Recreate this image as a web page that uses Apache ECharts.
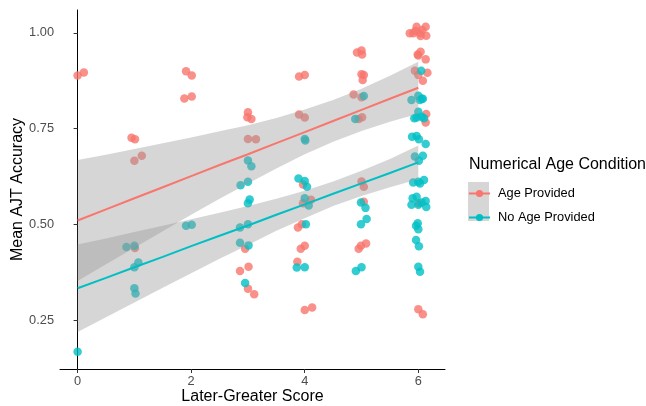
<!DOCTYPE html>
<html><head><meta charset="utf-8">
<script src="https://cdn.jsdelivr.net/npm/echarts@6/dist/echarts.min.js"></script>
<style>html,body{margin:0;padding:0;background:#fff}#c{width:646px;height:406px}</style>
</head><body><div id="c"></div>
<script>
const xTicks = [0, 2, 4, 6];
const yTicks = [0.25, 0.50, 0.75, 1.00];
const groups = ['Age Provided', 'No Age Provided'];

const agePoints = [
 [0.00,0.889],[0.11,0.897],
 [0.95,0.726],[1.01,0.722],[1.00,0.666],[1.13,0.679],[1.01,0.438],
 [1.91,0.900],[2.01,0.889],[1.88,0.829],[2.01,0.834],
 [3.00,0.793],[2.99,0.780],[3.06,0.775],[3.00,0.723],[3.14,0.722],[2.95,0.436],[2.86,0.378],[3.01,0.389],[3.00,0.332],[3.11,0.317],
 [3.90,0.886],[4.00,0.890],[3.90,0.787],[4.00,0.779],[3.97,0.604],[4.11,0.564],[3.97,0.555],[3.88,0.492],[3.95,0.500],[3.93,0.436],[4.00,0.444],[3.87,0.402],[4.00,0.276],[4.13,0.283],
 [4.92,0.949],[5.00,0.954],[5.01,0.944],[5.00,0.892],[5.04,0.890],[5.02,0.877],[4.86,0.839],[5.00,0.832],[4.95,0.775],[5.01,0.780],[5.00,0.612],[5.04,0.598],[5.04,0.559],[4.95,0.436],[4.99,0.444],[5.08,0.450],
 [5.91,0.999],[5.97,1.016],[6.13,1.016],[6.14,0.993],[6.03,0.999],[5.85,0.999],[5.95,1.005],[6.07,1.008],[6.04,0.992],
 [5.99,0.944],[6.04,0.951],[6.13,0.931],[6.00,0.941],[5.94,0.901],[6.16,0.896],[6.00,0.890],[6.08,0.875],[6.14,0.788],[6.13,0.766],[6.01,0.555],[6.00,0.278],[6.08,0.265]
];
const noAgePoints = [
 [0.00,0.167],
 [0.86,0.441],[1.00,0.444],[1.07,0.400],[1.00,0.388],[1.00,0.333],[1.02,0.319],
 [1.91,0.496],[2.01,0.499],
 [3.00,0.667],[3.06,0.652],[2.87,0.602],[3.00,0.611],[3.03,0.565],[3.00,0.555],[2.86,0.492],[3.00,0.500],[2.86,0.452],[3.01,0.445],[2.95,0.347],
 [4.00,0.723],[4.01,0.719],[3.89,0.620],[4.00,0.613],[4.04,0.598],[4.00,0.568],[4.07,0.549],[4.02,0.500],[3.86,0.387],[4.00,0.388],
 [5.04,0.835],[4.89,0.775],[4.99,0.557],[5.07,0.543],[5.09,0.514],[4.99,0.500],[4.90,0.378],[5.00,0.388],
 [6.05,0.901],[5.88,0.825],[6.00,0.836],[6.06,0.828],[6.03,0.825],[6.08,0.828],[5.93,0.777],[6.00,0.794],[6.06,0.781],[6.10,0.777],[5.97,0.779],
 [5.89,0.729],[5.97,0.731],[6.01,0.722],[6.13,0.710],[5.94,0.677],[6.08,0.679],[6.01,0.666],[5.91,0.609],[6.00,0.611],[6.10,0.616],[6.03,0.607],
 [5.90,0.568],[5.97,0.572],[6.00,0.551],[5.88,0.551],[6.13,0.561],[6.14,0.545],[6.06,0.557],[5.99,0.503],[5.96,0.496],[6.00,0.487],[5.96,0.459],[6.01,0.443],[6.00,0.389],[6.03,0.376]
];

const fitX = [0,0.5,1,1.5,2,2.5,3,3.5,4,4.5,5,5.5,6];
const ageFit   = [0.510,0.539,0.568,0.597,0.626,0.655,0.683,0.712,0.741,0.770,0.799,0.828,0.857];
const ageUpper = [0.668,0.682,0.697,0.712,0.727,0.743,0.759,0.778,0.800,0.825,0.854,0.888,0.925];
const ageLower = [0.352,0.396,0.439,0.482,0.525,0.567,0.607,0.646,0.683,0.716,0.744,0.768,0.789];
const noAgeFit   = [0.333,0.360,0.388,0.415,0.443,0.470,0.497,0.525,0.552,0.580,0.607,0.634,0.662];
const noAgeUpper = [0.447,0.463,0.480,0.496,0.513,0.530,0.548,0.567,0.588,0.612,0.640,0.671,0.706];
const noAgeLower = [0.219,0.257,0.296,0.334,0.372,0.410,0.446,0.483,0.516,0.548,0.574,0.597,0.618];

const colors = ['#F8766D', '#00BFC4'];
const FONT = 'Liberation Sans, Arial, Helvetica, sans-serif';
const zip = (xs, ys) => xs.map((x, i) => [x, ys[i]]);
const bandFill = 'rgba(153,153,153,0.4)';

function ribbon(id, lower, upper) {
  const rows = fitX.map((x, i) => [x, lower[i], upper[i]]);
  return {
    type: 'custom', name: id, data: rows, z: 2, silent: true,
    encode: { x: 0, y: [1, 2] },
    renderItem: function (params, api) {
      if (params.dataIndex !== 0) return null;
      const top = rows.map(r => api.coord([r[0], r[2]]));
      const bot = rows.slice().reverse().map(r => api.coord([r[0], r[1]]));
      return { type: 'polygon', shape: { points: top.concat(bot) }, style: { fill: bandFill } };
    }
  };
}

const chart = echarts.init(document.getElementById('c'), null, { renderer: 'canvas' });
chart.setOption({
  animation: false,
  backgroundColor: '#fff',
  textStyle: { fontFamily: FONT },
  title: { text: 'Numerical Age Condition', left: 469, top: 157, padding: 0,
    textStyle: { fontSize: 16, fontWeight: 'normal', color: '#000', fontFamily: FONT } },
  legend: {
    data: groups, orient: 'vertical', left: 468, top: 187, padding: 0,
    itemWidth: 21, itemHeight: 9, itemGap: 11,
    textStyle: { fontSize: 12.8, color: '#000', fontFamily: FONT, padding: [0, 0, 0, 3] },
    selectedMode: false
  },
  graphic: [{ type: 'rect', left: 468, top: 182, z: 0, shape: { width: 21, height: 39 }, style: { fill: '#D6D6D6' } }],
  grid: { left: 60, right: 201, top: 10, bottom: 37, containLabel: false, outerBoundsMode: 'none' },
  xAxis: {
    type: 'value', min: -0.31, max: 6.47,
    name: 'Later-Greater Score', nameLocation: 'middle', nameGap: 20, nameMoveOverlap: false,
    nameTextStyle: { fontSize: 16, color: '#000', fontFamily: FONT },
    axisLine: { show: true, lineStyle: { color: '#000', width: 1 } },
    axisTick: { show: true, length: 4, lineStyle: { color: '#333', width: 1 }, customValues: xTicks },
    axisLabel: { color: '#4D4D4D', fontSize: 12.8, margin: 6, fontFamily: FONT, customValues: xTicks },
    splitLine: { show: false }
  },
  yAxis: {
    type: 'value', min: 0.122, max: 1.06,
    name: 'Mean AJT Accuracy', nameLocation: 'middle', nameGap: 34, nameMoveOverlap: false,
    nameTextStyle: { fontSize: 16, color: '#000', fontFamily: FONT },
    axisLine: { show: true, lineStyle: { color: '#000', width: 1 } },
    axisTick: { show: true, length: 4, lineStyle: { color: '#333', width: 1 }, customValues: yTicks },
    axisLabel: { color: '#4D4D4D', fontSize: 12.8, margin: 6, fontFamily: FONT, customValues: yTicks,
      formatter: v => Number(v).toFixed(2) },
    splitLine: { show: false }
  },
  series: [
    { type: 'line', name: groups[0], data: zip(fitX, ageFit), symbol: 'circle', showSymbol: false,
      itemStyle: { color: colors[0] }, lineStyle: { color: colors[0], width: 2 }, z: 4, silent: true },
    { type: 'line', name: groups[1], data: zip(fitX, noAgeFit), symbol: 'circle', showSymbol: false,
      itemStyle: { color: colors[1] }, lineStyle: { color: colors[1], width: 2 }, z: 4, silent: true },
    { type: 'scatter', name: 'age_pts', data: agePoints, symbolSize: 8.5,
      itemStyle: { color: colors[0], opacity: 0.8 }, z: 1 },
    { type: 'scatter', name: 'noage_pts', data: noAgePoints, symbolSize: 8.5,
      itemStyle: { color: colors[1], opacity: 0.8 }, z: 1 },
    ribbon('ageBand', ageLower, ageUpper),
    ribbon('noAgeBand', noAgeLower, noAgeUpper)
  ]
});
</script></body></html>
